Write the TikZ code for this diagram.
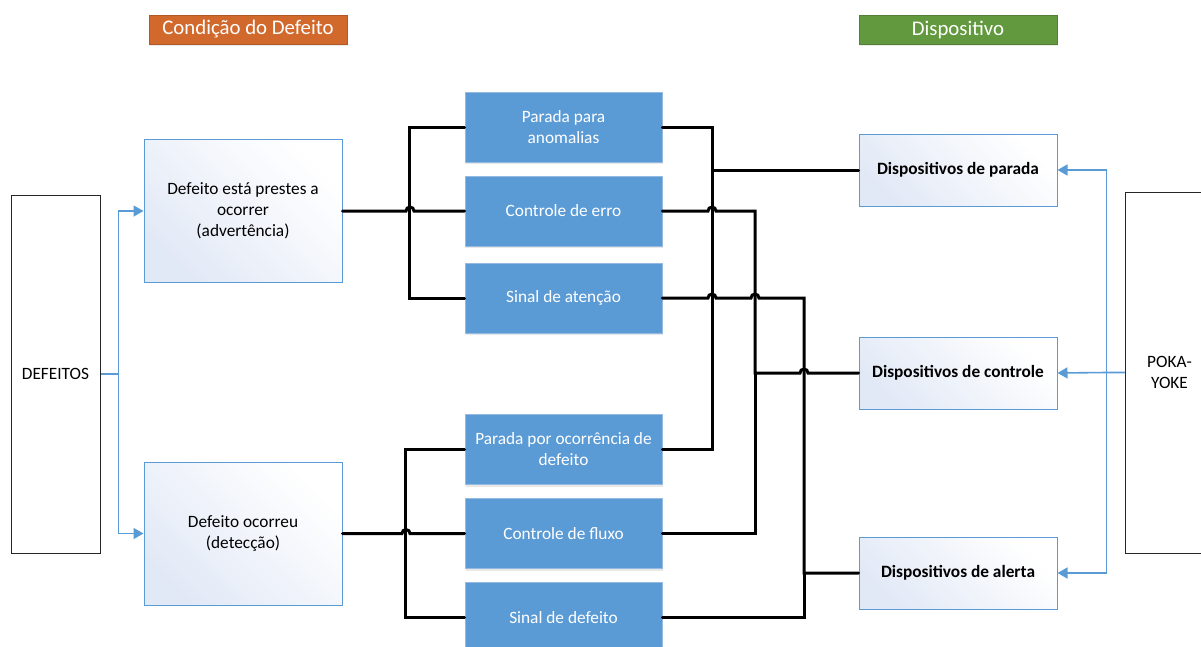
\documentclass[tikz,border=0pt]{standalone}
\usepackage{fontspec}
\setmainfont{Carlito}
\usetikzlibrary{arrows.meta,shadows}
\definecolor{bbox}{RGB}{91,155,213}
\definecolor{bboxline}{RGB}{150,185,225}
\definecolor{wboxline}{RGB}{91,155,213}
\definecolor{wboxtop}{RGB}{226,233,246}
\definecolor{orangeh}{RGB}{209,105,44}
\definecolor{orangeline}{RGB}{178,88,36}
\definecolor{greenh}{RGB}{98,153,62}
\definecolor{greenline}{RGB}{82,128,52}
\definecolor{conn}{RGB}{91,155,213}
\begin{document}
\begin{tikzpicture}[x=1pt,y=-1pt,
  every node/.style={font=\fontsize{17.3}{21}\selectfont, align=center, inner sep=2pt},
  blkbox/.style={draw=black!85, line width=1pt, minimum width=89pt, fill=white},
  wbox/.style={draw=wboxline, line width=1pt, minimum width=198pt, top color=wboxtop, bottom color=white, shading angle=135},
  bluebox/.style={draw=bboxline, line width=0.8pt, fill=bbox, text=white, minimum width=197pt, minimum height=70pt,
     drop shadow={opacity=0.18, shadow xshift=1pt, shadow yshift=-2pt}},
  header/.style={text=white, minimum width=198pt, minimum height=29pt, font=\fontsize{20.8}{24}\selectfont,
     drop shadow={opacity=0.15, shadow xshift=1pt, shadow yshift=-2pt}},
  wire/.style={draw=black, line width=3pt, line cap=round, line join=miter},
  bl/.style={draw=conn, line width=1.6pt, -{Triangle[length=10pt,width=11pt]}},
]
\useasboundingbox (0,0) rectangle (1201,646);

% headers
\node[header, fill=orangeh, draw=orangeline] (hcond) at (248,29.5) {Condição do Defeito};
\node[header, fill=greenh, draw=greenline] (hdisp) at (958,29.5) {Dispositivo};

% outer boxes
\node[blkbox, minimum height=358pt] (def) at (55.5,374) {DEFEITOS};
\node[blkbox, minimum height=361pt] (poka) at (1169.5,372.5) {POKA-\\YOKE};

% condition boxes
\node[wbox, minimum height=143pt] (adv) at (243,211) {Defeito está prestes a\\ocorrer\\(advertência)};
\node[wbox, minimum height=143pt] (oco) at (243,533.5) {Defeito ocorreu\\(detecção)};

% middle blue boxes
\node[bluebox] (b1) at (563.5,127) {Parada para\\anomalias};
\node[bluebox] (b2) at (563.5,211) {Controle de erro};
\node[bluebox] (b3) at (563.5,298) {Sinal de atenção};
\node[bluebox] (b4) at (563.5,449.5) {Parada por ocorrência de\\defeito};
\node[bluebox] (b5) at (563.5,533.5) {Controle de fluxo};
\node[bluebox] (b6) at (563.5,617.5) {Sinal de defeito};

% device boxes
\node[wbox, minimum height=72pt] (par) at (958,170) {\textbf{Dispositivos de parada}};
\node[wbox, minimum height=72pt] (ctl) at (958,373) {\textbf{Dispositivos de controle}};
\node[wbox, minimum height=72pt] (ale) at (958,573) {\textbf{Dispositivos de alerta}};

% blue connectors
\draw[bl] (def.east) -- ++(18,0) |- (adv.west);
\draw[bl] (def.east) -- ++(18,0) |- (oco.west);
\draw[bl] (poka.west) -- ++(-18,0) |- (par.east);
\draw[bl] (poka.west) -- ++(-18,0) -- (ctl.east);
\draw[bl] (poka.west) -- ++(-18,0) |- (ale.east);

% left buses
\draw[wire] (b1.west) -- ++(-55,0) |- (b3.west);
\draw[wire] (adv.east) -- (406,211) arc (180:360:4) -- (b2.west);
\draw[wire] (b4.west) -- ++(-59,0) |- (b6.west);
\draw[wire] (oco.east) -- (402,533.5) arc (180:360:4) -- (b5.west);

% right wiring
\draw[wire] (b1.east) -| (712,170) -- (par.west);
\draw[wire] (b4.east) -| (712,170);
\draw[wire] (b2.east) -- (708,211) arc (180:360:4) -- (755,211) -- (755,373) -- (800,373) arc (180:360:4) -- (ctl.west);
\draw[wire] (b5.east) -| (755,373);
\draw[wire] (b3.east) -- (708,298) arc (180:360:4) -- (751,298) arc (180:360:4) -- (804,298) -- (804,573) -- (ale.west);
\draw[wire] (b6.east) -| (804,573);
\end{tikzpicture}
\end{document}
